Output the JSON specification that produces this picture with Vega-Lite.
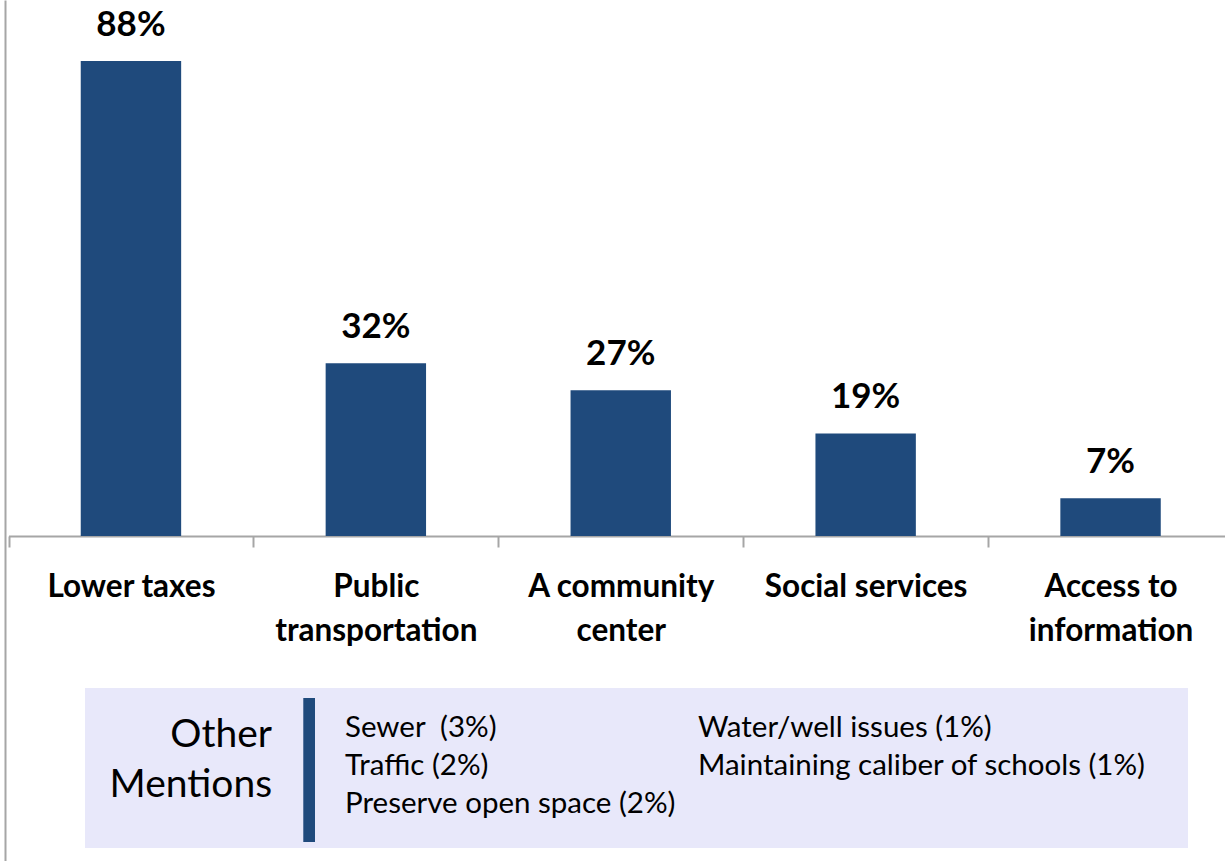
{
  "$schema": "https://vega.github.io/schema/vega-lite/v6.json",
  "width": 1220,
  "height": 861,
  "autosize": {"type": "none"},
  "padding": {"left": 5, "top": 0, "right": 0, "bottom": 0},
  "background": "#ffffff",
  "config": {"view": {"stroke": null}, "font": "Lato"},
  "data": {"values": [
    {"category": "Lower taxes", "share": 0.88},
    {"category": "Public transportation", "share": 0.32},
    {"category": "A community center", "share": 0.27},
    {"category": "Social services", "share": 0.19},
    {"category": "Access to information", "share": 0.07}
  ]},
  "layer": [
    {
      "layer": [
        {
          "mark": {"type": "bar", "color": "#1f4a7c", "width": {"band": 0.41}},
          "encoding": {
            "x": {
              "field": "category", "type": "nominal", "sort": null,
              "scale": {"range": [3.5, 1228], "paddingInner": 0, "paddingOuter": 0},
              "axis": {
                "title": null, "orient": "bottom", "offset": -325, "labelAngle": 0,
                "domainColor": "#a6a6a6", "domainWidth": 2,
                "tickColor": "#a6a6a6", "tickWidth": 2, "tickSize": 11, "tickBand": "extent",
                "labelFont": "Lato", "labelFontSize": 31.5, "labelFontWeight": "bold", "labelColor": "#000000",
                "labelPadding": 24, "labelLineHeight": 44, "labelLimit": 400, "labelOverlap": false, "labelBound": false,
                "labelExpr": "length(datum.label) > 16 ? [substring(datum.label, 0, lastindexof(datum.label, ' ')), substring(datum.label, lastindexof(datum.label, ' ') + 1)] : datum.label"
              }
            },
            "y": {
              "field": "share", "type": "quantitative",
              "scale": {"domain": [-0.602, 0.993], "nice": false, "zero": false},
              "axis": {"title": null, "domain": true, "domainColor": "#a6a6a6", "domainWidth": 2, "ticks": false, "labels": false, "grid": false}
            }
          }
        },
        {
          "mark": {"type": "text", "fontSize": 35, "fontWeight": "bold", "dy": -25, "baseline": "alphabetic", "color": "#000000", "font": "Lato"},
          "encoding": {
            "x": {"field": "category", "type": "nominal", "sort": null},
            "y": {"field": "share", "type": "quantitative"},
            "text": {"field": "share", "type": "quantitative", "format": ".0%"}
          }
        }
      ]
    },
    {
      "data": {"values": [{}]},
      "layer": [
        {
          "mark": {"type": "rect", "color": "#e8e8fa"},
          "encoding": {
            "x": {"datum": 6.56, "type": "quantitative", "scale": {"domain": [0, 100], "nice": false, "zero": false}, "axis": null},
            "x2": {"datum": 96.97},
            "y": {"datum": -0.2816, "type": "quantitative"},
            "y2": {"datum": -0.578}
          }
        },
        {
          "mark": {"type": "rect", "color": "#1f4a7c"},
          "encoding": {
            "x": {"datum": 24.45, "type": "quantitative", "axis": null},
            "x2": {"datum": 25.41},
            "y": {"datum": -0.3001, "type": "quantitative"},
            "y2": {"datum": -0.5669}
          }
        },
        {
          "mark": {"type": "text", "align": "right", "baseline": "middle", "fontSize": 39, "lineHeight": 50, "color": "#000000", "font": "Lato", "text": ["Other", "Mentions"]},
          "encoding": {
            "x": {"datum": 21.89, "type": "quantitative", "axis": null},
            "y": {"datum": -0.3687, "type": "quantitative"}
          }
        },
        {
          "mark": {"type": "text", "align": "left", "baseline": "middle", "fontSize": 29.5, "lineHeight": 38, "color": "#000000", "font": "Lato", "text": ["Sewer \u00a0(3%)", "Traffic (2%)", "Preserve open space (2%)"]},
          "encoding": {
            "x": {"datum": 27.87, "type": "quantitative", "axis": null},
            "y": {"datum": -0.3557, "type": "quantitative"}
          }
        },
        {
          "mark": {"type": "text", "align": "left", "baseline": "middle", "fontSize": 29.5, "lineHeight": 38, "color": "#000000", "font": "Lato", "text": ["Water/well issues (1%)", "Maintaining caliber of schools (1%)"]},
          "encoding": {
            "x": {"datum": 56.8, "type": "quantitative", "axis": null},
            "y": {"datum": -0.3557, "type": "quantitative"}
          }
        }
      ]
    }
  ],
  "resolve": {"scale": {"x": "independent"}, "axis": {"x": "independent"}}
}
